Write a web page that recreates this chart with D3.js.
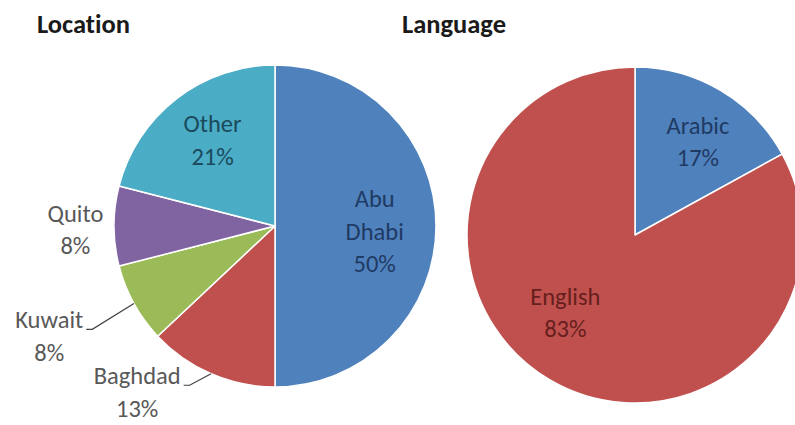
<!DOCTYPE html>
<html>
<head>
<meta charset="utf-8">
<script src="https://cdn.jsdelivr.net/npm/d3@7"></script>
<style>
  html, body { margin: 0; padding: 0; background: #ffffff; }
  svg { display: block; }
  text { font-variant-ligatures: none; }
</style>
</head>
<body>
<svg id="chart" width="795" height="425"></svg>
<script>
// Share of respondents by location
const locationNames = ["Abu Dhabi", "Baghdad", "Kuwait", "Quito", "Other"];
const locationShares = [50, 13, 8, 8, 21];

// Share of respondents by language
const languageNames = ["Arabic", "English"];
const languageShares = [17, 83];

const sliceColors = {
  "Abu Dhabi": "#4f81bd", "Baghdad": "#c0504d", "Kuwait": "#9bbb59",
  "Quito": "#8064a2", "Other": "#4bacc6",
  "Arabic": "#4f81bd", "English": "#c0504d"
};
const labelColors = {
  "Abu Dhabi": "#1f3a63", "Other": "#1a4a5c",
  "Arabic": "#1f3a63", "English": "#661f1d"
};
// Label placement: angle in degrees clockwise from 12 o'clock, distance as fraction of radius
const labelPlacement = {
  "Abu Dhabi": { angle: 93, dist: 0.62, lines: ["Abu", "Dhabi"] },
  "Other":     { angle: 324, dist: 0.66 },
  "Quito":     { angle: 269, dist: 1.24, outside: true },
  "Kuwait":    { angle: 244, dist: 1.56, outside: true, leader: true },
  "Baghdad":   { angle: 219.7, dist: 1.34, outside: true, leader: true },
  "Arabic":    { angle: 34, dist: 0.67 },
  "English":   { angle: 222, dist: 0.62 }
};

const svg = d3.select("#chart");
const fontFamily = "Carlito, Lato, 'Open Sans', sans-serif";
const lineHeight = 32.5;

function drawPie(cfg) {
  const data = cfg.names.map((n, i) => ({ name: n, value: cfg.values[i] }));
  const pie = d3.pie().sort(null).value(d => d.value);
  const arc = d3.arc().innerRadius(0).outerRadius(cfg.r);
  const g = svg.append("g").attr("transform", `translate(${cfg.cx},${cfg.cy})`);

  const arcs = pie(data);
  g.selectAll("path.slice")
    .data(arcs)
    .join("path")
    .attr("class", "slice")
    .attr("d", arc)
    .attr("fill", d => sliceColors[d.data.name])
    .attr("stroke", "#ffffff")
    .attr("stroke-width", 1.5)
    .attr("stroke-linejoin", "round");

  arcs.forEach(a => {
    const p = labelPlacement[a.data.name];
    const ang = p.angle * Math.PI / 180;
    const x = Math.sin(ang) * p.dist * cfg.r;
    const y = -Math.cos(ang) * p.dist * cfg.r;
    const lines = (p.lines || [a.data.name]).concat([a.data.value + "%"]);
    const top = y - (lines.length - 1) * lineHeight / 2 + 8.5;
    const t = g.append("text")
      .attr("text-anchor", "middle")
      .attr("font-family", fontFamily)
      .attr("font-size", 24.5)
      .attr("fill", p.outside ? "#595959" : labelColors[a.data.name]);
    lines.forEach((ln, i) => {
      t.append("tspan").attr("x", x).attr("y", top + i * lineHeight).text(ln);
    });
    if (p.leader) {
      // leader from end of the name line to the slice's outer edge
      const first = t.select("tspan").node();
      const w = first.getComputedTextLength();
      const sx = x + w / 2 + 3;
      const sy = top + 1;
      const mid = (a.startAngle + a.endAngle) / 2;
      const ex = Math.sin(mid) * cfg.r;
      const ey = -Math.cos(mid) * cfg.r;
      g.append("path")
        .attr("d", `M${sx},${sy} L${sx + 6},${sy} L${ex},${ey}`)
        .attr("fill", "none")
        .attr("stroke", "#404040")
        .attr("stroke-width", 1.2);
    }
  });

  svg.append("text")
    .attr("x", cfg.titleX)
    .attr("y", 33)
    .attr("font-family", fontFamily)
    .attr("font-weight", "bold")
    .attr("font-size", 26.5)
    .attr("fill", "#1a1a1a")
    .text(cfg.title);
}

drawPie({ title: "Location", titleX: 37, names: locationNames, values: locationShares, cx: 275, cy: 226, r: 161 });
drawPie({ title: "Language", titleX: 402, names: languageNames, values: languageShares, cx: 635, cy: 235, r: 168 });
</script>
</body>
</html>
